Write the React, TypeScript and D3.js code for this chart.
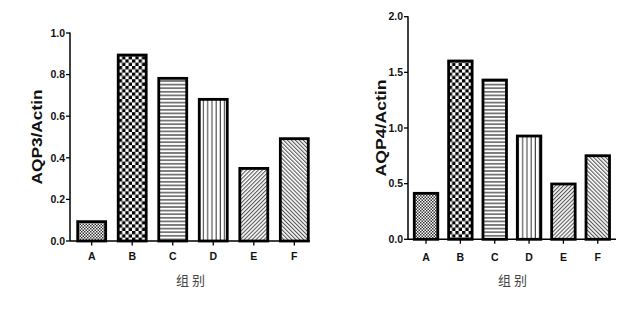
import React from "react";
import * as d3 from "d3";

const categories = ["A", "B", "C", "D", "E", "F"];
const aqp3Values = [0.093, 0.894, 0.782, 0.681, 0.349, 0.492];
const aqp4Values = [0.413, 1.602, 1.431, 0.928, 0.497, 0.751];
const aqp3Ticks = [0, 0.2, 0.4, 0.6, 0.8, 1.0];
const aqp4Ticks = [0, 0.5, 1.0, 1.5, 2.0];
const patternIds = ["pA", "pB", "pC", "pD", "pE", "pF"];

const numFont = "'Liberation Sans', Arial, Helvetica, sans-serif";

type PanelProps = {
  values: number[];
  ticks: number[];
  yMax: number;
  axisX: number;
  yTop: number;
  yBottom: number;
  bandRange: [number, number];
  padInner: number;
  padOuter: number;
  axisEnd: number;
  title: string;
  titleX: number;
  titleLen: number;
  xLabelY: number;
  groupY: number;
};

function Panel(p: PanelProps) {
  const y = d3.scaleLinear().domain([0, p.yMax]).range([p.yBottom, p.yTop]);
  const x = d3
    .scaleBand<string>()
    .domain(categories)
    .range(p.bandRange)
    .paddingInner(p.padInner)
    .paddingOuter(p.padOuter);
  const fmt = d3.format(".1f");
  const midY = (p.yTop + p.yBottom) / 2;
  const midX = (p.axisX + p.axisEnd) / 2;
  return (
    <g>
      {categories.map((c, i) => {
        const x0 = x(c)!;
        const yv = y(p.values[i]);
        return (
          <g key={c}>
            <rect x={x0} y={yv} width={x.bandwidth()} height={p.yBottom - yv} fill="#fff" />
            <rect
              x={x0}
              y={yv}
              width={x.bandwidth()}
              height={p.yBottom - yv}
              fill={`url(#${patternIds[i]})`}
              stroke="#000"
              strokeWidth={2.8}
            />
          </g>
        );
      })}
      <line x1={p.axisX} x2={p.axisX} y1={p.yTop - 0.5} y2={p.yBottom} stroke="#000" strokeWidth={1.5} />
      <line x1={p.axisX} x2={p.axisEnd} y1={p.yBottom} y2={p.yBottom} stroke="#000" strokeWidth={1.5} />
      {p.ticks.map((t) => (
        <g key={t}>
          <line x1={p.axisX - 4} x2={p.axisX} y1={y(t)} y2={y(t)} stroke="#000" strokeWidth={1.3} />
          <text
            x={p.axisX - 5}
            y={y(t)}
            dy="0.36em"
            textAnchor="end"
            fontFamily={numFont}
            fontWeight="bold"
            fontSize={10.5}
            fill="#111"
          >
            {fmt(t)}
          </text>
        </g>
      ))}
      {categories.map((c) => {
        const cx = x(c)! + x.bandwidth() / 2;
        return (
          <g key={c}>
            <line x1={cx} x2={cx} y1={p.yBottom} y2={p.yBottom + 4.5} stroke="#000" strokeWidth={1.3} />
            <text
              x={cx}
              y={p.xLabelY}
              textAnchor="middle"
              fontFamily={numFont}
              fontWeight="bold"
              fontSize={10.5}
              fill="#111"
            >
              {c}
            </text>
          </g>
        );
      })}
      <text
        transform={`translate(${p.titleX},${midY}) rotate(-90)`}
        textAnchor="middle"
        dy="0.35em"
        fontFamily={numFont}
        fontWeight="bold"
        fontSize={14}
        textLength={p.titleLen}
        lengthAdjust="spacingAndGlyphs"
        fill="#111"
      >
        {p.title}
      </text>
      <text
        x={midX + 2}
        y={p.groupY}
        textAnchor="middle"
        dy="0.35em"
        fontFamily="'Noto Sans CJK SC', sans-serif"
        fontSize={13}
        letterSpacing={3}
        fill="#444"
      >
        组别
      </text>
    </g>
  );
}

export default function App() {
  return (
    <svg
      width={619}
      height={323}
      style={{ position: "absolute", left: 0, top: 0, background: "#fff" }}
    >
      <defs>
        <pattern id="pA" width={3} height={3} patternUnits="userSpaceOnUse">
          <rect width={3} height={3} fill="#fff" />
          <rect width={1.5} height={1.5} fill="#333" />
          <rect x={1.5} y={1.5} width={1.5} height={1.5} fill="#333" />
        </pattern>
        <pattern id="pB" width={6.6} height={6.6} patternUnits="userSpaceOnUse">
          <rect width={6.6} height={6.6} fill="#fff" />
          <rect width={3.3} height={3.3} fill="#000" />
          <rect x={3.3} y={3.3} width={3.3} height={3.3} fill="#000" />
        </pattern>
        <pattern id="pC" width={4} height={3.6} patternUnits="userSpaceOnUse">
          <rect width={4} height={3.6} fill="#fff" />
          <rect y={1.2} width={4} height={1.2} fill="#333" />
        </pattern>
        <pattern id="pD" width={4.2} height={4} patternUnits="userSpaceOnUse">
          <rect width={4.2} height={4} fill="#fff" />
          <rect x={1.4} width={1.1} height={4} fill="#444" />
        </pattern>
        <pattern
          id="pE"
          width={2.8}
          height={2.8}
          patternUnits="userSpaceOnUse"
          patternTransform="rotate(45)"
        >
          <rect width={2.8} height={2.8} fill="#fff" />
          <rect width={1.1} height={2.8} fill="#555" />
        </pattern>
        <pattern
          id="pF"
          width={2.8}
          height={2.8}
          patternUnits="userSpaceOnUse"
          patternTransform="rotate(-45)"
        >
          <rect width={2.8} height={2.8} fill="#fff" />
          <rect width={1.1} height={2.8} fill="#555" />
        </pattern>
      </defs>
      <rect width={619} height={323} fill="#fff" />
      <Panel
        values={aqp3Values}
        ticks={aqp3Ticks}
        yMax={1.0}
        axisX={70}
        yTop={33}
        yBottom={241}
        bandRange={[70, 316]}
        padInner={0.31}
        padOuter={0.19}
        axisEnd={310}
        title="AQP3/Actin"
        titleX={37}
        titleLen={95}
        xLabelY={260}
        groupY={280}
      />
      <Panel
        values={aqp4Values}
        ticks={aqp4Ticks}
        yMax={2.0}
        axisX={408}
        yTop={16.7}
        yBottom={239.3}
        bandRange={[408, 615.8]}
        padInner={0.316}
        padOuter={0.183}
        axisEnd={616}
        title="AQP4/Actin"
        titleX={381}
        titleLen={97}
        xLabelY={261}
        groupY={280}
      />
    </svg>
  );
}
